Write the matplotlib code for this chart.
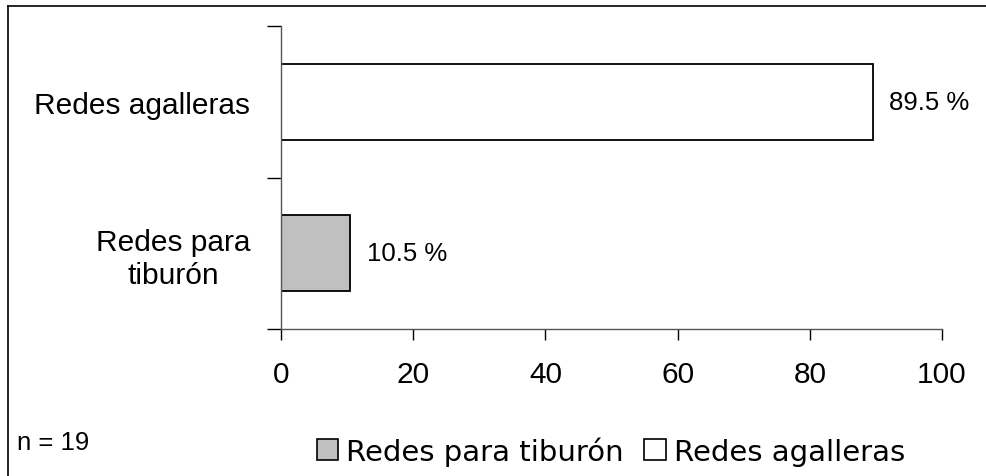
import matplotlib
matplotlib.use("Agg")
import matplotlib.pyplot as plt
from matplotlib.patches import Patch
from matplotlib.lines import Line2D

# data
categories = ["Redes para\ntiburón", "Redes agalleras"]
values = [10.5, 89.5]
bar_colors = ["#C0C0C0", "#FFFFFF"]
legend_labels = ["Redes para tiburón", "Redes agalleras"]
x_ticks = [0, 20, 40, 60, 80, 100]
sample_note = "n = 19"

plt.rcParams["font.family"] = ["Liberation Sans", "DejaVu Sans"]

W, H = 986, 477
fig = plt.figure(figsize=(W / 100, H / 100), dpi=100)
ax = fig.add_axes([281 / W, 1 - 330 / H, (942 - 281) / W, (330 - 27) / H])

ypos = list(range(len(categories)))
ax.barh(ypos, values, height=0.5, color=bar_colors, edgecolor="black", linewidth=1.3)

for y, v in zip(ypos, values):
    ax.annotate(f"{v} %", xy=(v, y), xytext=(12, 0), textcoords="offset points",
                va="center", ha="left", fontsize=18.5)

ax.set_xlim(0, 100)
ax.set_ylim(-0.5, len(categories) - 0.5)
ax.set_xticks(x_ticks)
ax.set_xticklabels([str(t) for t in x_ticks], fontsize=21.5)
ax.tick_params(axis="x", direction="out", length=8, width=1, pad=14)

# boundaries as major ticks, category names as minor
ax.set_yticks([i - 0.5 for i in range(len(categories) + 1)])
ax.set_yticklabels([])
ax.set_yticks(ypos, minor=True)
ax.set_yticklabels(categories, minor=True, fontsize=21.5)
ax.tick_params(axis="y", which="major", direction="out", length=10, width=1)
ax.tick_params(axis="y", which="minor", length=0, pad=22)
for lab in ax.get_yticklabels(minor=True):
    lab.set_multialignment("center")

for s in ["top", "right"]:
    ax.spines[s].set_visible(False)
for s in ["left", "bottom"]:
    ax.spines[s].set_color("#555555")
    ax.spines[s].set_linewidth(1)

# outer frame (top and left edges only visible)
fig.add_artist(Line2D([8 / W, 1], [1 - 7 / H, 1 - 7 / H], color="black", lw=1.2,
                      transform=fig.transFigure))
fig.add_artist(Line2D([8 / W, 8 / W], [0, 1 - 7 / H], color="black", lw=1.2,
                      transform=fig.transFigure))

fig.text(17 / W, 1 - 443 / H, sample_note, fontsize=18.5, va="center", ha="left")

handles = [Patch(facecolor=c, edgecolor="black", linewidth=1.2) for c in bar_colors]
fig.legend(handles, legend_labels, loc="center", bbox_to_anchor=(611 / W, 1 - 452 / H),
           ncol=2, frameon=False, handlelength=0.75, handleheight=0.75,
           handletextpad=0.27, columnspacing=0.7,
           prop={"family": "DejaVu Sans", "size": 21})

fig.savefig("out.png", dpi=100)
